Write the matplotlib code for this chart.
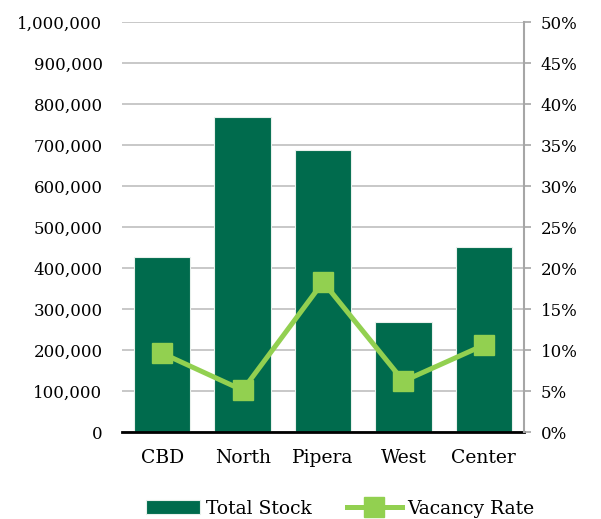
import numpy as np
import matplotlib.pyplot as plt
from matplotlib.ticker import FuncFormatter, MultipleLocator

# datos
regiones = ["CBD", "North", "Pipera", "West", "Center"]
stock = [428000, 768000, 688000, 268000, 451000]
vacancia = [9.6, 5.1, 18.3, 6.2, 10.6]

verde_osc = "#006b4d"
verde_cla = "#92d050"

plt.rcParams['font.family'] = ['DejaVu Serif']
plt.rcParams['font.size'] = 12

fig = plt.figure(figsize=(6.01, 5.19), dpi=100)
ax = fig.add_axes([0.203, 0.1676, 0.669, 0.79])
x = np.arange(len(regiones))

ax.bar(x, stock, width=0.7, color=verde_osc, edgecolor="#e8f0ec", linewidth=0.8,
       label="Total Stock", zorder=2)
ax.set_ylim(0, 1000000)
ax.set_xlim(-0.5, len(regiones) - 0.5)
ax.yaxis.set_major_locator(MultipleLocator(100000))
ax.yaxis.set_major_formatter(FuncFormatter(lambda v, p: f"{int(v):,}"))
ax.grid(axis="y", color="#bfbfbf", linewidth=1.2, zorder=0)
ax.set_axisbelow(True)
ax.set_xticks(x)
ax.set_xticklabels(regiones, fontsize=13.5)
ax.tick_params(axis="y", length=0, pad=14)
ax.tick_params(axis="x", length=0, pad=12)
for s in ["left", "top", "right"]:
    ax.spines[s].set_visible(False)
ax.spines["bottom"].set_linewidth(2)
ax.spines["bottom"].set_color("black")
ax.spines["bottom"].set_zorder(5)

ax2 = ax.twinx()
ax2.plot(x, vacancia, color=verde_cla, linewidth=3.6, marker="s", markersize=15,
         label="Vacancy Rate", zorder=3)
ax2.set_ylim(0, 50)
ax2.yaxis.set_major_locator(MultipleLocator(5))
ax2.yaxis.set_major_formatter(FuncFormatter(lambda v, p: f"{int(v)}%"))
ax2.tick_params(axis="y", length=5, color="#a6a6a6", width=1.2, pad=7)
for s in ["left", "top", "bottom"]:
    ax2.spines[s].set_visible(False)
ax2.spines["right"].set_color("#a6a6a6")
ax2.spines["right"].set_linewidth(1.5)

h1, l1 = ax.get_legend_handles_labels()
h2, l2 = ax2.get_legend_handles_labels()
fig.legend(h1 + h2, l1 + l2, loc="center", bbox_to_anchor=(0.566, 0.02), ncol=2,
           frameon=False, handlelength=2.9, handletextpad=0.3, columnspacing=1.9,
           fontsize=13.5)

fig.savefig("out.png", dpi=100)
